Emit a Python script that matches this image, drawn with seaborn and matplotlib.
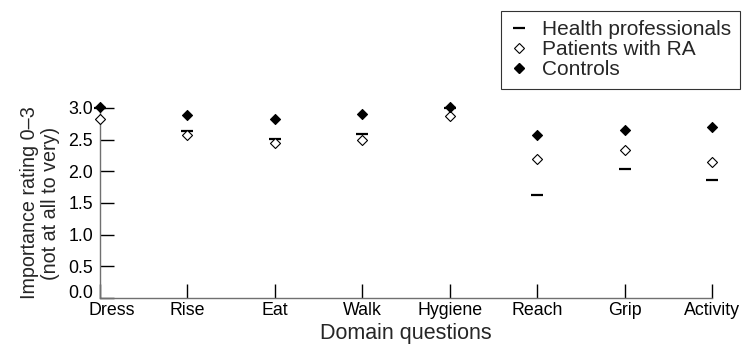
import pandas as pd
import numpy as np
import seaborn as sns
import matplotlib.pyplot as plt
import matplotlib.transforms as mtransforms
from matplotlib.lines import Line2D

# Domain questions and mean importance ratings (0-3)
domains = ["Dress", "Rise", "Eat", "Walk", "Hygiene", "Reach", "Grip", "Activity"]
health_professionals = [3.00, 2.63, 2.51, 2.59, 3.00, 1.62, 2.04, 1.87]
patients_ra = [2.82, 2.58, 2.45, 2.50, 2.87, 2.20, 2.34, 2.15]
controls = [3.01, 2.89, 2.82, 2.91, 3.02, 2.58, 2.65, 2.70]

df = pd.DataFrame({
    "domain": domains,
    "hp": health_professionals,
    "ra": patients_ra,
    "ctrl": controls,
})

sns.set_style("ticks")
plt.rcParams["font.family"] = ["Liberation Sans", "DejaVu Sans"]

fig = plt.figure(figsize=(7.44, 3.45), dpi=100)
ax = fig.add_axes([0.1344, 0.1362, 0.8226, 0.5508])

sns.scatterplot(data=df, x="domain", y="hp", marker="_", s=85, color="black",
                linewidth=1.6, ax=ax, clip_on=False, zorder=3)
sns.scatterplot(data=df, x="domain", y="ra", marker="D", s=26, facecolor="white",
                edgecolor="black", linewidth=0.8, ax=ax, clip_on=False, zorder=4)
sns.scatterplot(data=df, x="domain", y="ctrl", marker="D", s=26, color="black",
                edgecolor="black", linewidth=0.8, ax=ax, clip_on=False, zorder=5)

ax.set_xlim(0, len(domains) - 1)
ax.set_ylim(0, 3)
ax.set_yticks(np.arange(0, 3.01, 0.5))
ax.set_yticklabels([f"{v:.1f}" for v in np.arange(0, 3.01, 0.5)])
sns.despine(ax=ax)
for side in ["left", "bottom"]:
    ax.spines[side].set_color("#707070")
    ax.spines[side].set_linewidth(1.0)
ax.tick_params(axis="both", direction="in", length=10, width=1.0, color="black",
               labelsize=12.8, labelcolor="black")
ax.tick_params(axis="y", pad=5)
ax.tick_params(axis="x", pad=3)

# nudge the corner labels apart like the original
ax.get_yticklabels()[0].set_transform(
    ax.get_yticklabels()[0].get_transform()
    + mtransforms.ScaledTranslation(0, 7 / 100, fig.dpi_scale_trans))
ax.get_xticklabels()[0].set_transform(
    ax.get_xticklabels()[0].get_transform()
    + mtransforms.ScaledTranslation(12 / 100, 0, fig.dpi_scale_trans))

ax.set_xlabel("Domain questions", fontsize=15.5, labelpad=3)
ax.set_ylabel("Importance rating 0\u20133\n(not at all to very)", fontsize=14.2,
              labelpad=6, linespacing=1.1)

handles = [
    Line2D([], [], linestyle="none", marker="_", color="black", markersize=9,
           markeredgewidth=1.6),
    Line2D([], [], linestyle="none", marker="D", markerfacecolor="white",
           markeredgecolor="black", markersize=5, markeredgewidth=0.8),
    Line2D([], [], linestyle="none", marker="D", color="black", markersize=5),
]
labels = ["Health professionals", "Patients with RA", "Controls"]
leg = fig.legend(handles, labels, loc="upper right", bbox_to_anchor=(0.995, 0.968),
                 fontsize=15, frameon=True, fancybox=False, borderaxespad=0,
                 handlelength=0.8, handletextpad=0.7, labelspacing=0.05,
                 borderpad=0.45)
leg.get_frame().set_edgecolor("black")
leg.get_frame().set_linewidth(0.8)

plt.savefig("out.png", dpi=100)
